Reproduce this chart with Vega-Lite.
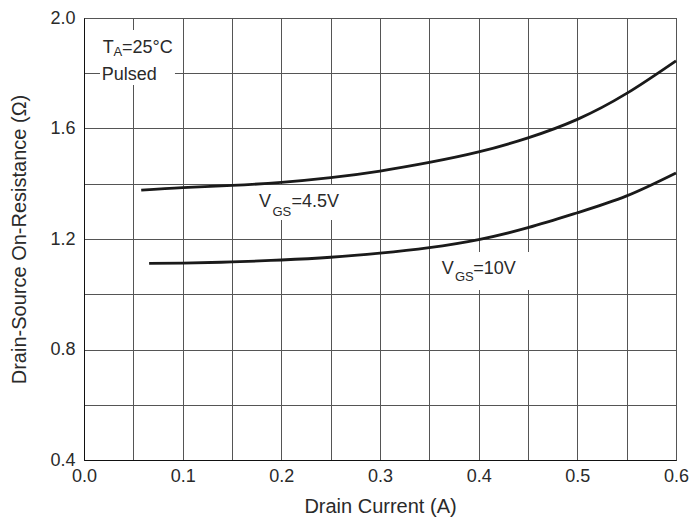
{
  "$schema": "https://vega.github.io/schema/vega-lite/v6.json",
  "autosize": "none",
  "width": 592,
  "height": 442,
  "padding": {"left": 84, "top": 18, "right": 14, "bottom": 59},
  "background": "white",
  "config": {
    "font": "Liberation Sans",
    "view": {"stroke": "#111", "strokeWidth": 1},
    "axis": {
      "labelFont": "Liberation Sans",
      "titleFont": "Liberation Sans",
      "labelFontSize": 18,
      "titleFontSize": 20,
      "labelColor": "#2a2a2a",
      "titleColor": "#2a2a2a",
      "titleFontWeight": "normal",
      "ticks": false,
      "domainColor": "#111",
      "gridColor": "#555",
      "gridWidth": 1,
      "gridOpacity": 1,
      "labelFlush": false,
      "labelOverlap": false
    }
  },
  "datasets": {
    "curves": [
      {"current": 0.058, "resistance": 1.377, "vgs": "4.5V"},
      {"current": 0.1, "resistance": 1.386, "vgs": "4.5V"},
      {"current": 0.15, "resistance": 1.394, "vgs": "4.5V"},
      {"current": 0.2, "resistance": 1.405, "vgs": "4.5V"},
      {"current": 0.25, "resistance": 1.422, "vgs": "4.5V"},
      {"current": 0.3, "resistance": 1.446, "vgs": "4.5V"},
      {"current": 0.35, "resistance": 1.477, "vgs": "4.5V"},
      {"current": 0.4, "resistance": 1.515, "vgs": "4.5V"},
      {"current": 0.45, "resistance": 1.566, "vgs": "4.5V"},
      {"current": 0.5, "resistance": 1.633, "vgs": "4.5V"},
      {"current": 0.55, "resistance": 1.727, "vgs": "4.5V"},
      {"current": 0.6, "resistance": 1.845, "vgs": "4.5V"},
      {"current": 0.066, "resistance": 1.112, "vgs": "10V"},
      {"current": 0.1, "resistance": 1.113, "vgs": "10V"},
      {"current": 0.15, "resistance": 1.117, "vgs": "10V"},
      {"current": 0.2, "resistance": 1.124, "vgs": "10V"},
      {"current": 0.25, "resistance": 1.134, "vgs": "10V"},
      {"current": 0.3, "resistance": 1.149, "vgs": "10V"},
      {"current": 0.35, "resistance": 1.169, "vgs": "10V"},
      {"current": 0.4, "resistance": 1.198, "vgs": "10V"},
      {"current": 0.45, "resistance": 1.241, "vgs": "10V"},
      {"current": 0.5, "resistance": 1.295, "vgs": "10V"},
      {"current": 0.55, "resistance": 1.356, "vgs": "10V"},
      {"current": 0.6, "resistance": 1.439, "vgs": "10V"}
    ],
    "boxes": [
      {"x1": 0.0162, "x2": 0.0922, "y1": 1.9566, "y2": 1.7575},
      {"x1": 0.1703, "x2": 0.2564, "y1": 1.3955, "y2": 1.2688},
      {"x1": 0.3547, "x2": 0.4591, "y1": 1.1529, "y2": 1.0154}
    ],
    "labels": [
      {"text": "T", "kind": "main", "x": 0.0189, "y": 1.8903},
      {"text": "A", "kind": "sub", "x": 0.0299, "y": 1.877},
      {"text": "=25°C", "kind": "main", "x": 0.0385, "y": 1.8903},
      {"text": "Pulsed", "kind": "main", "x": 0.0179, "y": 1.7937},
      {"text": "V", "kind": "main", "x": 0.1774, "y": 1.3339},
      {"text": "GS", "kind": "sub", "x": 0.191, "y": 1.2977},
      {"text": "=4.5V", "kind": "main", "x": 0.2103, "y": 1.3339},
      {"text": "V", "kind": "main", "x": 0.3625, "y": 1.0914},
      {"text": "GS", "kind": "sub", "x": 0.376, "y": 1.0613},
      {"text": "=10V", "kind": "main", "x": 0.3946, "y": 1.0914}
    ]
  },
  "layer": [
    {
      "data": {"name": "boxes"},
      "mark": {"type": "rect", "fill": "white", "stroke": null},
      "encoding": {
        "x": {
          "field": "x1", "type": "quantitative",
          "scale": {"domain": [0, 0.6], "nice": false, "zero": false},
          "axis": {
            "title": "Drain Current (A)",
            "values": [0, 0.05, 0.1, 0.15, 0.2, 0.25, 0.3, 0.35, 0.4, 0.45, 0.5, 0.55, 0.6],
            "labelExpr": "round(datum.value*100) % 10 == 0 ? format(datum.value, '.1f') : ''",
            "labelPadding": 7,
            "titlePadding": 11
          }
        },
        "x2": {"field": "x2"},
        "y": {
          "field": "y1", "type": "quantitative",
          "scale": {"domain": [0.4, 2.0], "nice": false, "zero": false},
          "axis": {
            "title": "Drain-Source On-Resistance (Ω)",
            "values": [0.4, 0.6, 0.8, 1.0, 1.2, 1.4, 1.6, 1.8, 2.0],
            "labelExpr": "round(datum.value*10) % 4 == 0 ? format(datum.value, '.1f') : ''",
            "labelPadding": 9,
            "titlePadding": 20
          }
        },
        "y2": {"field": "y2"}
      }
    },
    {
      "data": {"name": "curves"},
      "mark": {"type": "line", "interpolate": "natural", "strokeWidth": 2.8, "color": "#1a1a1a"},
      "encoding": {
        "x": {"field": "current", "type": "quantitative"},
        "y": {"field": "resistance", "type": "quantitative"},
        "detail": {"field": "vgs", "type": "nominal"}
      }
    },
    {
      "data": {"name": "labels"},
      "transform": [{"filter": "datum.kind == 'main'"}],
      "mark": {"type": "text", "align": "left", "baseline": "middle", "fontSize": 18, "color": "#2a2a2a", "font": "Liberation Sans"},
      "encoding": {
        "x": {"field": "x", "type": "quantitative"},
        "y": {"field": "y", "type": "quantitative"},
        "text": {"field": "text"}
      }
    },
    {
      "data": {"name": "labels"},
      "transform": [{"filter": "datum.kind == 'sub'"}],
      "mark": {"type": "text", "align": "left", "baseline": "middle", "fontSize": 13, "color": "#2a2a2a", "font": "Liberation Sans"},
      "encoding": {
        "x": {"field": "x", "type": "quantitative"},
        "y": {"field": "y", "type": "quantitative"},
        "text": {"field": "text"}
      }
    }
  ]
}
